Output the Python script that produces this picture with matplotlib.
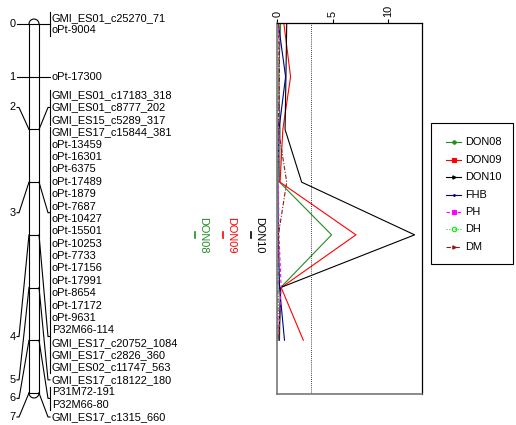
import numpy as np
import matplotlib.pyplot as plt
from matplotlib.patches import Rectangle
from matplotlib.lines import Line2D

plt.rcParams['font.family'] = ['Liberation Sans', 'DejaVu Sans']
FS = 7.9

# linkage group: marker names and their map positions (cM)
markers = ['GMI_ES01_c25270_71', 'oPt-9004', 'oPt-17300',
           'GMI_ES01_c17183_318', 'GMI_ES01_c8777_202', 'GMI_ES15_c5289_317',
           'GMI_ES17_c15844_381', 'oPt-13459', 'oPt-16301', 'oPt-6375',
           'oPt-17489', 'oPt-1879', 'oPt-7687', 'oPt-10427', 'oPt-15501',
           'oPt-10253', 'oPt-7733', 'oPt-17156', 'oPt-17991', 'oPt-8654',
           'oPt-17172', 'oPt-9631', 'P32M66-114', 'GMI_ES17_c20752_1084',
           'GMI_ES17_c2826_360', 'GMI_ES02_c11747_563',
           'GMI_ES17_c18122_180', 'P31M72-191', 'P32M66-80', 'GMI_ES17_c1315_660']
marker_pos = [0, 0, 1, 2, 2, 2] + [3] * 14 + [4] * 6 + [5, 6, 6, 7]

# LOD profiles along the group
scan_pos = [0, 1, 2, 3, 4, 5, 6]
lod_don08 = [0.30, 0.12, 0.25, 0.20, 4.90, 0.30, 0.20]
lod_don09 = [0.60, 1.20, 0.50, 0.25, 7.10, 0.35, 2.35]
lod_don10 = [0.85, 0.78, 0.70, 2.20, 12.40, 0.30, 0.15]
lod_fhb = [0.10, 0.75, 0.15, 0.05, 0.10, 0.20, 0.65]
lod_ph = [0.10, 0.15, 0.10, 0.10, 0.15, 0.35, 0.10]
lod_dh = [0.05, 0.10, 0.05, 0.05, 0.10, 0.10, 0.05]
lod_dm = [0.15, 0.20, 0.10, 0.85, 0.10, 0.05, 0.05]
threshold = 3.0

trait_names = ['DON08', 'DON09', 'DON10', 'FHB', 'PH', 'DH', 'DM']
trait_lods = [lod_don08, lod_don09, lod_don10, lod_fhb, lod_ph, lod_dh, lod_dm]
trait_colors = ['#228B22', '#FF0000', '#000000', '#00008B', '#FF00FF', '#00EE00', '#8B1A1A']
trait_ls = ['-', '-', '-', '-', (0, (3, 2)), (0, (1, 1.5)), (0, (4, 1.5, 1, 1.5))]
trait_mk = ['o', 's', '>', '.', 's', 'o', '>']

# QTL intervals drawn next to the map
qtl_names = ['DON08', 'DON09', 'DON10']
qtl_colors = ['#228B22', '#FF0000', '#000000']
qtl_lo = [3.94, 3.94, 3.94]
qtl_hi = [4.06, 4.06, 4.06]

fig = plt.figure(figsize=(5.16, 4.25), dpi=100)

# map panel: x in pixels, y in cM
ax = fig.add_axes([0, 0, 275 / 516, 1])
ax.set_xlim(0, 275)
ax.set_ylim(7.608, -0.456)
ax.axis('off')

px = 52.7  # pixels per cM
cx0, cx1 = 29, 39
r = 5
top, bot = min(marker_pos), max(marker_pos)
ax.plot([cx0, cx0], [top, bot], color='k', lw=0.8)
ax.plot([cx1, cx1], [top, bot], color='k', lw=0.8)
t = np.linspace(0, np.pi, 40)
ax.plot(34 + r * np.cos(t), top - r / px * np.sin(t), color='k', lw=0.8)
ax.plot(34 + r * np.cos(t), bot + r / px * np.sin(t), color='k', lw=0.8)

# label placement: push labels apart, then keep inside the bottom limit
pos = np.array(marker_pos, dtype=float)
sp = 12.38 / px
groups = sorted(set(marker_pos))
want = np.zeros(len(pos))
for g in groups:
    idx = np.where(pos == g)[0]
    want[idx] = g + (np.arange(len(idx)) - (len(idx) - 1) / 2) * sp
lab = want.copy()
for i in range(1, len(lab)):
    lab[i] = max(lab[i], lab[i - 1] + sp)
lab[-1] = min(lab[-1], 7.456)
for i in range(len(lab) - 2, -1, -1):
    lab[i] = min(lab[i], lab[i + 1] - sp)

for name, y in zip(markers, lab):
    ax.text(52, y, name, fontsize=FS, va='center', ha='left')

for g in groups:
    idx = np.where(pos == g)[0]
    yc = lab[idx].mean()
    ax.plot([cx0, cx1], [g, g], color='k', lw=0.8)
    ax.plot([17, 19, cx0], [yc, yc, g], color='k', lw=0.8)
    ax.text(15.5, yc, '%d' % g, fontsize=FS, va='center', ha='right')
    ax.plot([cx1, 48, 50], [g, yc, yc], color='k', lw=0.8)
    if len(idx) > 1:
        ax.plot([50, 50], [lab[idx[0]] - 0.45 * sp, lab[idx[-1]] + 0.45 * sp],
                color='k', lw=0.8)

for i, (nm, c, lo, hi) in enumerate(zip(qtl_names, qtl_colors, qtl_lo, qtl_hi)):
    xq = 195 + 28 * i
    ax.plot([xq, xq], [lo, hi], color=c, lw=1.2)
    ax.text(xq + 8, (lo + hi) / 2, nm, color=c, fontsize=FS, rotation=-90,
            va='center', ha='center')

# LOD profile panel
axp = fig.add_axes([277.3 / 516, 31 / 425, 144.5 / 516, 371 / 425])
for nm, y, c, ls in zip(trait_names, trait_lods, trait_colors, trait_ls):
    axp.plot(y, scan_pos, color=c, ls=ls, lw=0.8)
axp.axvline(threshold, color='k', ls=(0, (1, 1.5)), lw=0.6)
axp.set_xlim(0, 13.05)
axp.set_ylim(7.02, -0.02)
axp.xaxis.set_ticks_position('top')
axp.set_xticks([0, 5, 10])
axp.tick_params(axis='x', direction='out', length=3, pad=1.5, labelsize=FS,
                labelrotation=90, width=0.8)
axp.set_yticks([])
for s in ['top', 'right']:
    axp.spines[s].set_color('k')
    axp.spines[s].set_linewidth(0.9)
for s in ['left', 'bottom']:
    axp.spines[s].set_color('#777777')
    axp.spines[s].set_linewidth(1.2)

# legend box
axl = fig.add_axes([0, 0, 1, 1], zorder=5)
axl.set_xlim(0, 516)
axl.set_ylim(425, 0)
axl.axis('off')
axl.add_patch(Rectangle((430.5, 122.5), 82, 141.5, fill=False, ec='k', lw=0.8))
for i, (nm, c, ls, mk) in enumerate(zip(trait_names, trait_colors, trait_ls, trait_mk)):
    yy = 142.3 + 17.4 * i
    axl.add_line(Line2D([446, 461], [yy, yy], color=c, ls=ls, lw=0.8))
    mfc = 'none' if nm == 'DH' else c
    ms = 3.2 if nm in ('PH', 'DH') else 2.4
    axl.plot([453.5], [yy], marker=mk, color=c, mfc=mfc, ms=ms, mew=0.8)
    axl.text(465, yy, nm, fontsize=FS, va='center', ha='left')

fig.savefig('out.png', dpi=100)
